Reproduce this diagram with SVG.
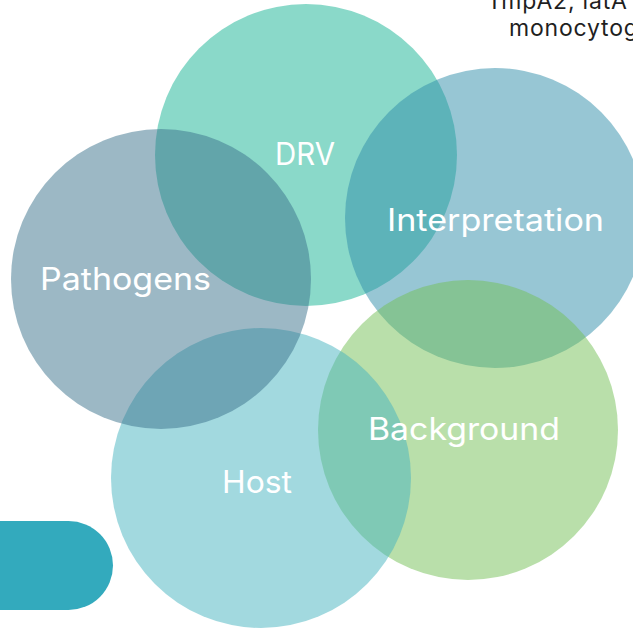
<svg xmlns="http://www.w3.org/2000/svg" width="633" height="629" viewBox="0 0 633 629">
  <style>
    .disc { fill-opacity: 0.5; }
    .label { font-family: Inter, "Open Sans", "Noto Sans", sans-serif; font-size: 31px; fill: #ffffff; text-anchor: middle; }
    .note { font-family: Inter, "Open Sans", "Noto Sans", sans-serif; font-size: 23px; letter-spacing: 0.8px; fill: #1f1f1f; }
  </style>
  <rect width="633" height="629" fill="#ffffff"/>

  <!-- caption partly off the top-right edge -->
  <g id="caption">
    <text class="note" x="487" y="9">TmpA2, latA</text>
    <text class="note" x="509" y="36">monocytogenes</text>
  </g>

  <!-- rounded tab at bottom left -->
  <g id="tab">
    <rect x="-60" y="521" width="173" height="89" rx="44.5" fill="#33aabd"/>
  </g>

  <!-- overlapping discs, lowest first -->
  <g id="drv">
    <circle class="disc" cx="306" cy="155" r="151" fill="#15b393"/>
  </g>
  <g id="interpretation">
    <circle class="disc" cx="495" cy="218" r="150" fill="#2f8da9"/>
  </g>
  <g id="background">
    <circle class="disc" cx="468" cy="430" r="150" fill="#73bf55"/>
  </g>
  <g id="host">
    <circle class="disc" cx="261" cy="478" r="150" fill="#45b3bf"/>
  </g>
  <g id="pathogens">
    <circle class="disc" cx="161" cy="279" r="150" fill="#39718b"/>
  </g>

  <g id="labels">
    <text class="label" x="305" y="165" textLength="60" lengthAdjust="spacingAndGlyphs">DRV</text>
    <text class="label" x="495.5" y="231" textLength="217" lengthAdjust="spacingAndGlyphs">Interpretation</text>
    <text class="label" x="125.5" y="290" textLength="171" lengthAdjust="spacingAndGlyphs">Pathogens</text>
    <text class="label" x="464" y="440" textLength="192" lengthAdjust="spacingAndGlyphs">Background</text>
    <text class="label" x="257" y="493" textLength="70" lengthAdjust="spacingAndGlyphs">Host</text>
  </g>
</svg>
